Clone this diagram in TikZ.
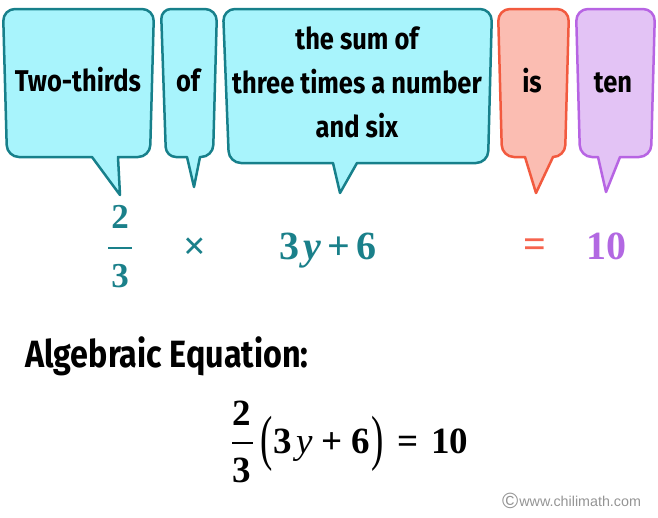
\documentclass[tikz,border=0pt]{standalone}
\usepackage{graphicx}
\usepackage{fontspec}
\newfontfamily\handfont[FakeStretch=0.85]{Fira Sans}
\newfontfamily\eqfont{Liberation Serif}
\newfontfamily\webfont{Liberation Sans}
\definecolor{bubblecyan}{RGB}{168,244,252}
\definecolor{bubbleteal}{RGB}{23,128,139}
\definecolor{bubblepink}{RGB}{251,189,178}
\definecolor{bubblered}{RGB}{242,90,63}
\definecolor{bubblelilac}{RGB}{227,195,245}
\definecolor{bubblepurple}{RGB}{183,100,227}
\definecolor{mathteal}{RGB}{26,128,138}
\definecolor{mathred}{RGB}{246,100,78}
\definecolor{mathpurple}{RGB}{178,104,226}

\tikzset{
  bubble/.style={line width=2.5pt, rounded corners=12pt, line join=round},
  cyanbubble/.style={bubble, fill=bubblecyan, draw=bubbleteal},
  redbubble/.style={bubble, fill=bubblepink, draw=bubblered},
  purplebubble/.style={bubble, fill=bubblelilac, draw=bubblepurple},
  word/.style={font=\handfont\bfseries\fontsize{30}{44}\selectfont, anchor=base, inner sep=0pt},
  bigmath/.style={font=\eqfont\bfseries\fontsize{40}{40}\selectfont, inner sep=0pt},
  fracdigit/.style={font=\eqfont\bfseries\fontsize{35}{35}\selectfont, inner sep=0pt, anchor=base},
  eqmath/.style={font=\eqfont\bfseries\fontsize{37}{37}\selectfont, inner sep=0pt, anchor=base},
  fracbar/.style={line width=2pt},
}

\begin{document}
\begin{tikzpicture}[x=1pt,y=-1pt]
    \useasboundingbox (0,0) rectangle (658,517);

    % Two-thirds
    \draw[cyanbubble] (3,9) -- (154,9) -- (150,157) [sharp corners] -- (118,157) -- (120,195) -- (92,157) [rounded corners=12pt] -- (7,157) -- cycle;
    \node[word] (twothirds) at (78,91) {Two-thirds};

    % of
    \draw[cyanbubble] (161,9) -- (217,9) -- (213,157) [sharp corners] -- (200,157) -- (194,187) -- (187,157) [rounded corners=10pt] -- (166,157) -- cycle;
    \node[word] (of) at (188,91) {of};

    % the sum of
    \draw[cyanbubble] (223,9) -- (492,9) -- (488,163) [sharp corners] -- (357,163) -- (340,193) -- (333,163) [rounded corners=12pt] -- (229,163) -- cycle;
    \node[word, align=center] (sumof) at (357,137) {the sum of\\three times a number\\and six};

    % is
    \draw[redbubble] (498,9) -- (569,9) -- (565,157) [sharp corners] -- (553,157) -- (536,193) -- (525,157) [rounded corners=12pt] -- (502,157) -- cycle;
    \node[word] (is) at (532,92) {is};

    % ten
    \draw[purplebubble] (576,9) -- (655,9) -- (651,157) [sharp corners] -- (620,157) -- (606,192) -- (598,157) [rounded corners=12pt] -- (580,157) -- cycle;
    \node[word] (tenword) at (613,92) {ten};

    % Translated symbols
    \node[fracdigit, text=mathteal] (numtop) at (120,228) {2};
    \node[fracdigit, text=mathteal] (dentop) at (120,287) {3};
    \draw[fracbar, mathteal] (108,248) -- (132,248);
    \node[bigmath, text=mathteal] (times) at (195,249) {×};
    \node[bigmath, anchor=base, text=mathteal] (expr) at (328,259) {3\kern4pt{\itshape y}\kern7pt+\kern6pt6};
    \node[bigmath, text=mathred] (equals) at (535,248) {=};
    \node[bigmath, anchor=base, text=mathpurple] (ten) at (606,259) {10};

    % Algebraic equation
    \node[font=\handfont\bfseries\fontsize{38}{38}\selectfont, anchor=base west, inner sep=0pt] (algeq) at (25,367) {Algebraic Equation:};
    \node[eqmath] (numbot) at (242,425) {2};
    \node[eqmath] (denbot) at (242,482) {3};
    \draw[fracbar] (232,443) -- (253,443);
    \node[eqmath, anchor=base west] (equation) at (260,453)
        {{\mdseries\raisebox{-5.5pt}{\scalebox{1}[1.65]{(}}}\kern1pt3\kern4pt{\mdseries\itshape y}\kern9pt+\kern9pt6\kern1pt{\mdseries\raisebox{-5.5pt}{\scalebox{1}[1.65]{)}}}\kern14pt=\kern13pt10};

    % Credit
    \node[font=\webfont\fontsize{14.3}{14.3}\selectfont, text=black!42, anchor=base west, inner sep=0pt] (credit) at (502,506)
        {{\fontsize{22}{22}\selectfont\raisebox{-2.5pt}{©}}\kern1pt www.chilimath.com};
\end{tikzpicture}
\end{document}
